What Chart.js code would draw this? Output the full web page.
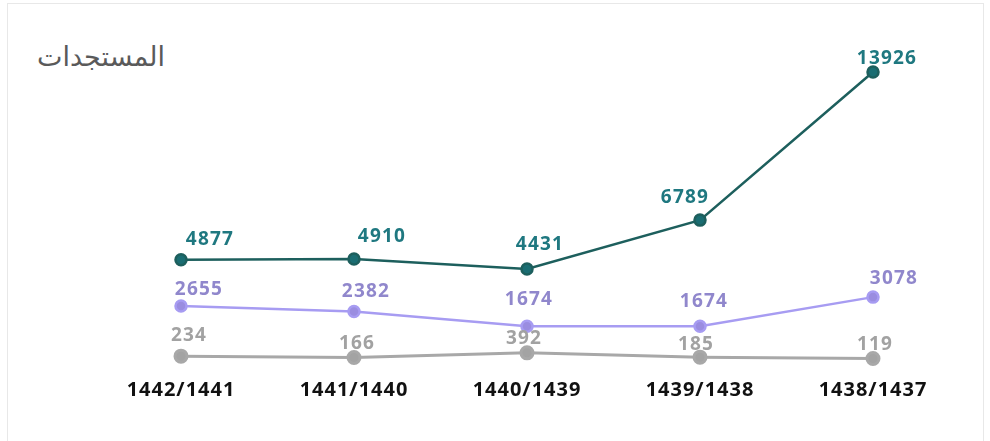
<!DOCTYPE html>
<html>
<head>
<meta charset="utf-8">
<script src="https://cdn.jsdelivr.net/npm/chart.js@4"></script>
<style>
  html, body { margin: 0; padding: 0; background: #fff; }
  #wrap { position: relative; width: 990px; height: 441px; overflow: hidden; }
  #frame { position: absolute; left: 7px; top: 3px; width: 977px; height: 440px; border: 1px solid #e8e8e8; box-sizing: border-box; }
  #title { position: absolute; left: 37px; top: 42px; width: 130px; margin: 0; font: 400 27px/30px "DejaVu Sans", sans-serif; color: #5a5a5a; text-align: left; }
  #chart { position: absolute; left: 0; top: 0; }
</style>
</head>
<body>
<div id="wrap">
  <div id="frame"></div>
  <h2 id="title" dir="rtl">المستجدات</h2>
  <canvas id="chart" width="990" height="441"></canvas>
</div>
<script>
// Academic years (Hijri)
const years = ['1442/1441', '1441/1440', '1440/1439', '1439/1438', '1438/1437'];

// Series values
const topSeries = [4877, 4910, 4431, 6789, 13926];
const midSeries = [2655, 2382, 1674, 1674, 3078];
const lowSeries = [234, 166, 392, 185, 119];

// label nudges (style only): [dx, dy] from each point
const labelNudge = [
    [[29, -20], [28, -23], [13, -24], [-15, -23], [14, -13]],
    [[18, -16], [12, -20], [2, -27], [4, -25], [21, -19]],
    [[8, -21], [3, -14], [-3, -14], [-4, -13], [2, -14]]
];

const valueLabels = {
    id: 'valueLabels',
    afterDatasetsDraw(chart) {
        const ctx = chart.ctx;
        ctx.save();
        ctx.font = 'bold 19px "Open Sans", sans-serif';
        ctx.letterSpacing = '1.2px';
        ctx.textAlign = 'center';
        ctx.textBaseline = 'middle';
        chart.data.datasets.forEach((ds, i) => {
            const meta = chart.getDatasetMeta(i);
            ctx.fillStyle = ds.labelColor;
            meta.data.forEach((pt, j) => {
                const n = labelNudge[i][j];
                ctx.fillText(String(ds.data[j]), pt.x + n[0], pt.y + n[1]);
            });
        });
        ctx.restore();
    }
};

const spacing = {
    id: 'spacing',
    beforeDraw(chart) {
        chart.ctx.letterSpacing = '1px';
    }
};

const ctx = document.getElementById('chart').getContext('2d');
new Chart(ctx, {
    type: 'line',
    data: {
        labels: years,
        datasets: [
            {
                data: topSeries,
                borderColor: '#1d5f5d',
                backgroundColor: '#1a6d72',
                labelColor: '#1f7880',
                borderWidth: 2.5,
                pointRadius: 5.5,
                tension: 0
            },
            {
                data: midSeries,
                borderColor: '#a79cf2',
                backgroundColor: '#9a8de0',
                labelColor: '#9087cc',
                borderWidth: 2.5,
                pointRadius: 5.5,
                tension: 0
            },
            {
                data: lowSeries,
                borderColor: '#a8a8a8',
                backgroundColor: '#a3a3a3',
                labelColor: '#a2a2a2',
                borderWidth: 3,
                pointRadius: 6,
                tension: 0
            }
        ]
    },
    options: {
        responsive: false,
        animation: false,
        layout: { padding: { left: 181, right: 117, top: 49.7, bottom: 22 } },
        plugins: {
            legend: { display: false },
            tooltip: { enabled: false }
        },
        elements: { point: { borderWidth: 0 } },
        clip: false,
        scales: {
            x: {
                offset: false,
                grid: { display: false, drawTicks: false },
                border: { display: false },
                ticks: {
                    color: '#111',
                    padding: 17,
                    font: { family: '"Open Sans", sans-serif', size: 20, weight: 'bold' }
                }
            },
            y: {
                display: false,
                min: 0,
                max: 15000
            }
        }
    },
    plugins: [spacing, valueLabels]
});
</script>
</body>
</html>
